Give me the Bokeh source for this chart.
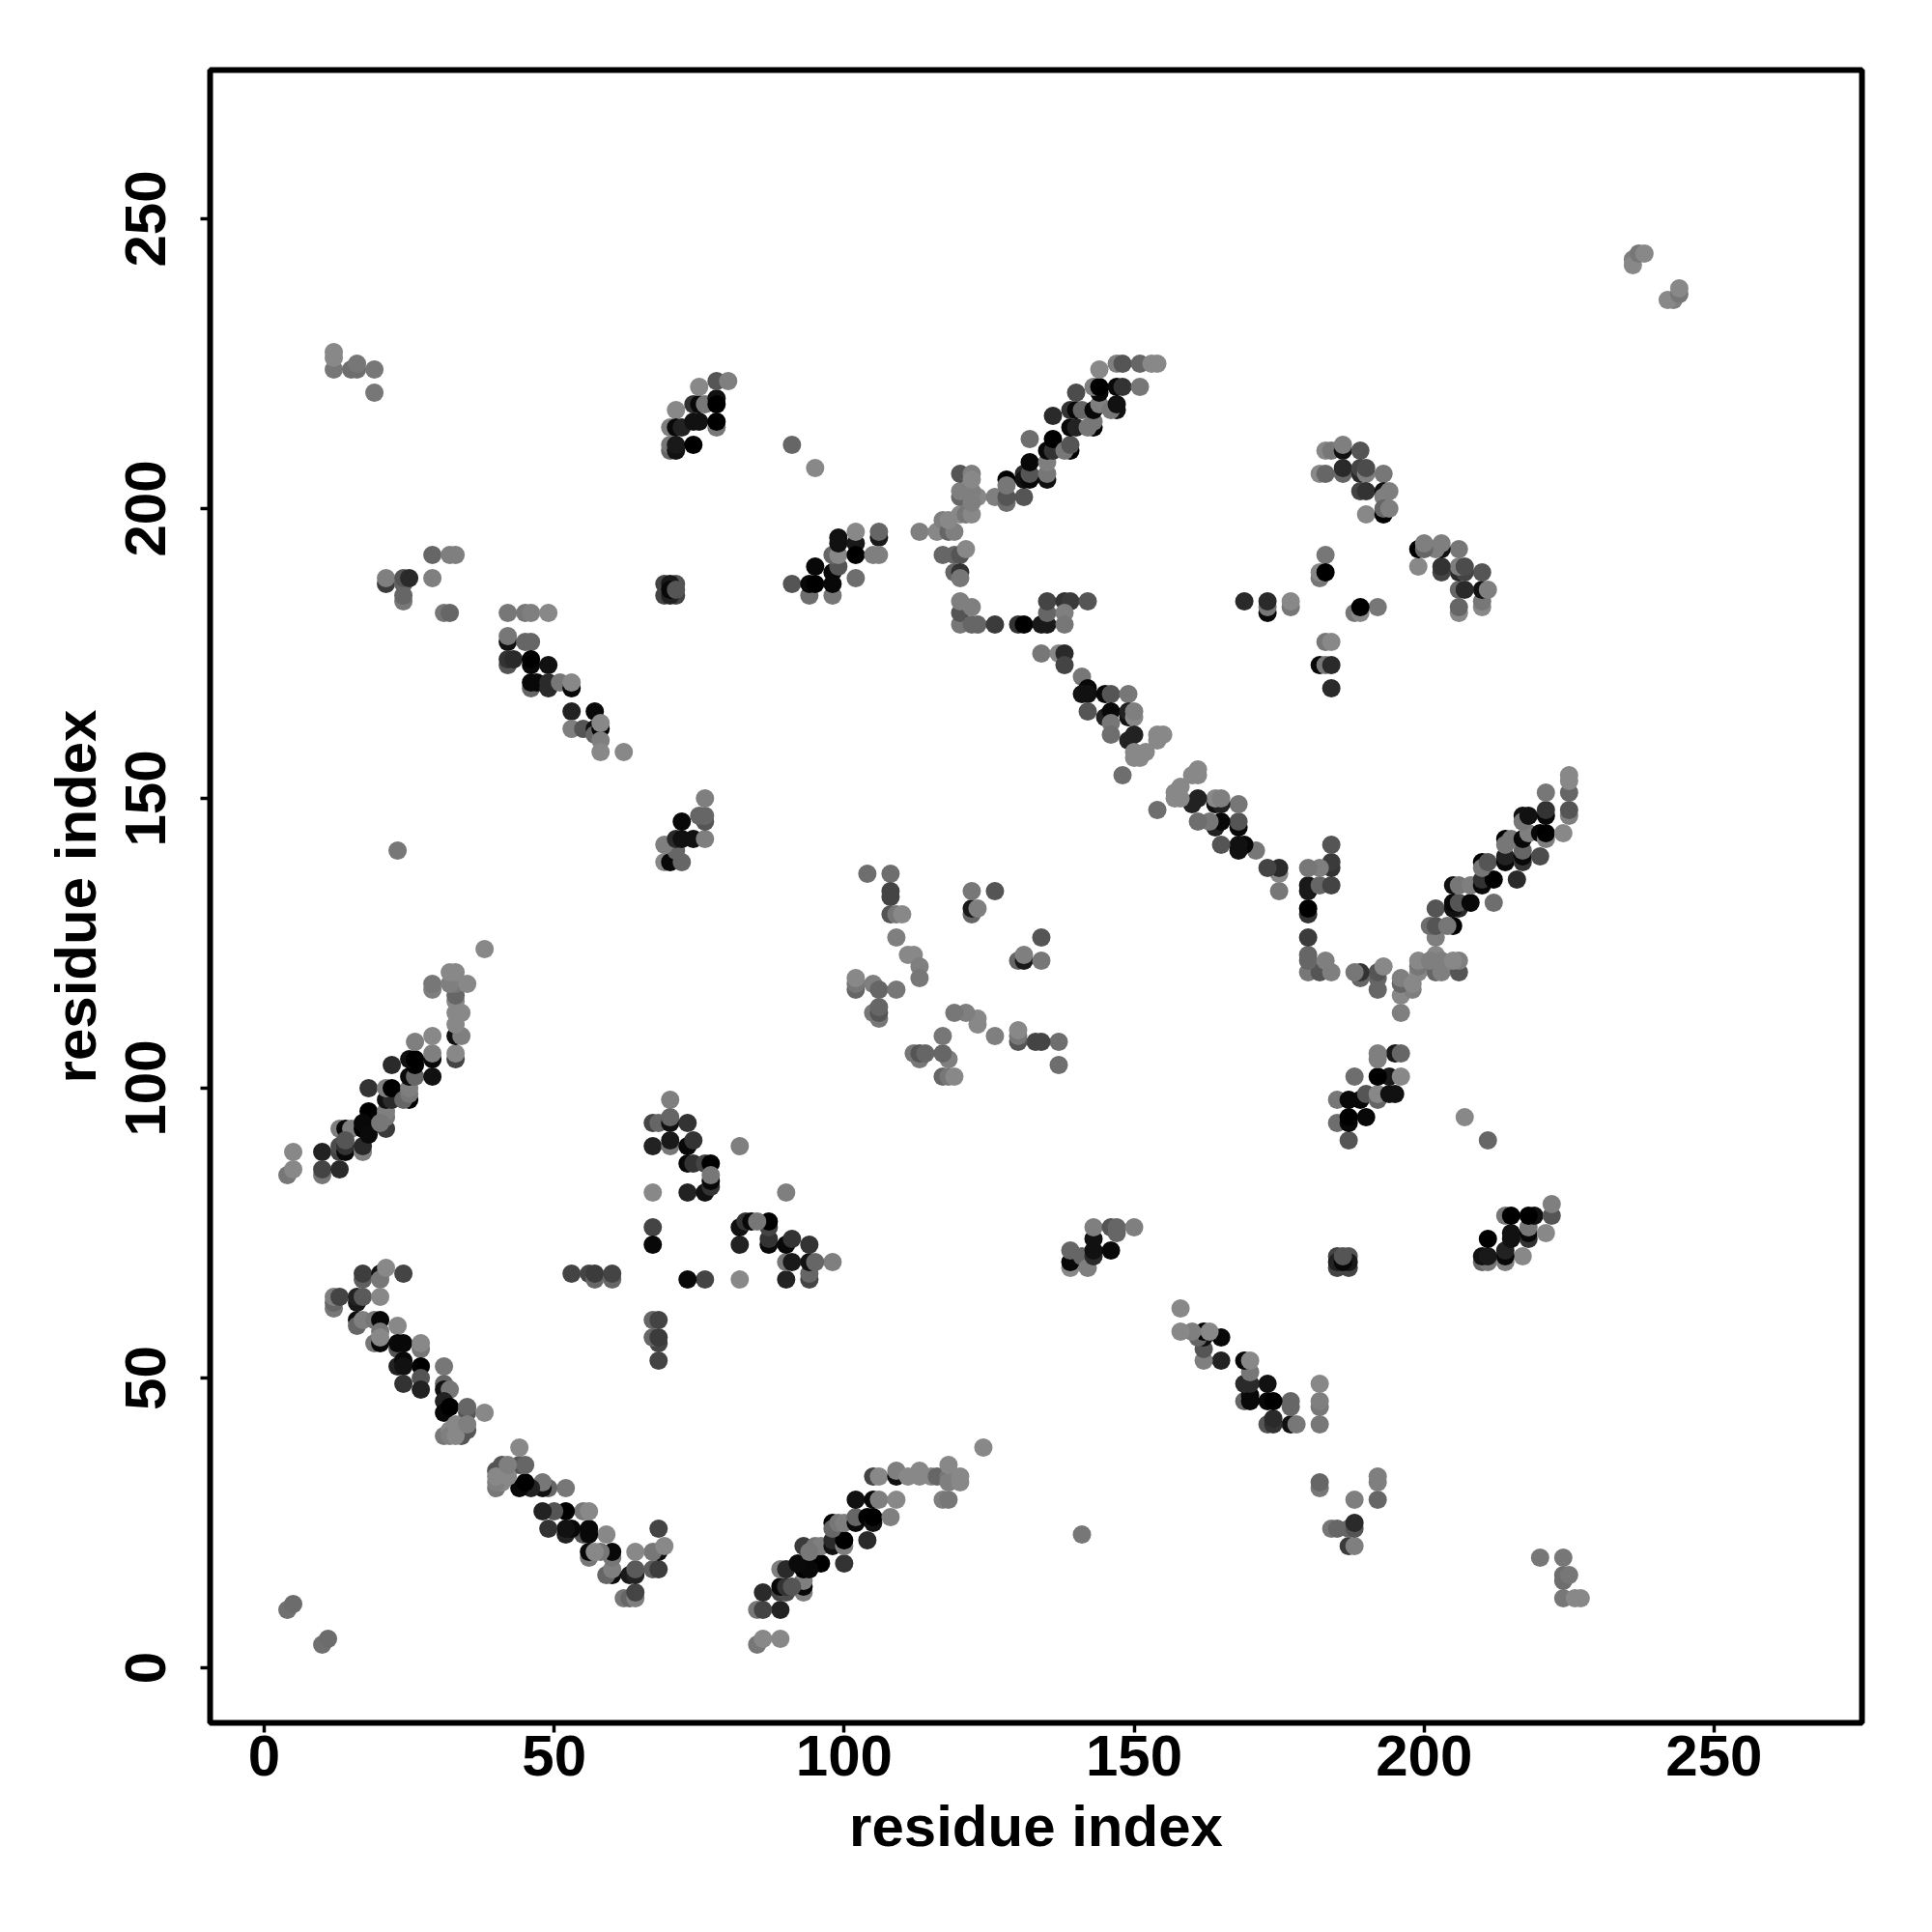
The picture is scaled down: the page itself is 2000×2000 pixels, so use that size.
from bokeh.plotting import figure
from bokeh.models import ColumnDataSource, FixedTicker, Range1d
from bokeh.embed import file_html
from bokeh.resources import INLINE

near_ends = [(4,10,0x6a),(5,11,0x66),(236,243,0x78),(236,242,0x80),(237,244,0x70),(238,244,0x80)]
strand_a = [(17,67,0x5a),(17,68,0x3a),(20,68,0x10),(20,67,0x70),(21,69,0x80),(24,68,0x40),
 (12,62,0x70),(12,63,0x60),(12,64,0x78),(13,64,0x40),(16,63,0x18),(16,64,0x20),(17,64,0x55),(20,64,0x80),
 (16,60,0x0a),(16,59,0x60),(17,60,0x78),(19,60,0x70),(20,60,0x08),(23,59,0x80),
 (20,58,0x70),(19,56,0x70),(20,56,0x08),(20,57,0x80),(23,55,0x50),(23,56,0x08),(24,56,0x08),(27,55,0x70),(27,56,0x80),
 (23,52,0x20),(24,53,0x08),(24,52,0x10),(27,52,0x00),(27,50,0x50),(24,49,0x30),(27,48,0x20),
 (31,52,0x70),(31,49,0x60),(31,48,0x10),(32,48,0x70),(31,46,0x20),(31,44,0x08),(32,45,0x00),
 (35,44,0x50),(35,45,0x60),(38,44,0x80),(34,40,0x50),(31,40,0x70),(35,41,0x50),(32,41,0x80),(32,40,0x78),(33,40,0x80),(33,42,0x80),(35,42,0x78)]
patch_b = [(67,82,0x80),(73,82,0x20),(76,82,0x10),(77,83,0x30),(77,84,0x08),(67,76,0x40),(67,73,0x08),
 (53,68,0x40),(56,68,0x40),(57,67,0x60),(57,68,0x38),(60,67,0x60),(60,68,0x40),
 (70,98,0x78),(67,94,0x40),(68,94,0x60),(70,94,0x10),(70,95,0x60),(73,94,0x30),
 (67,90,0x20),(70,90,0x70),(70,91,0x18),(73,90,0x08),(74,91,0x30),(82,90,0x78),
 (73,87,0x08),(74,87,0x30),(76,87,0x40),(77,87,0x00),(77,85,0x70)]
strand_c = [(5,89,0x80),(4,85,0x70),(5,86,0x80),(10,85,0x70),(10,89,0x20),(10,86,0x40),(13,86,0x28),
 (13,93,0x78),(14,93,0x08),(15,93,0x78),(13,89,0x40),(13,90,0x48),(14,89,0x08),(14,90,0x30),(14,91,0x50),
 (17,89,0x78),(17,90,0x28),(17,93,0x00),(18,93,0x28),(18,96,0x00),(17,94,0x08),(18,92,0x0a),
 (21,93,0x38),(21,95,0x70),(21,96,0x78),(20,94,0x70),(18,100,0x30),(21,98,0x10),(22,98,0x28),(21,100,0x78),(22,100,0x00),
 (25,98,0x00),(24,98,0x60),(25,99,0x70),(25,100,0x78),(22,104,0x28),(25,102,0x0a),(26,102,0x60),(26,104,0x00),(25,105,0x10),(26,105,0x00),(26,108,0x78),
 (29,102,0x10),(29,105,0x08),(29,106,0x78),(29,109,0x80),(33,105,0x40),(33,106,0x80),
 (33,109,0x10),(34,109,0x78),(33,111,0x80),(33,113,0x80),(34,113,0x80),(33,115,0x80),
 (29,117,0x78),(29,118,0x70),(33,116,0x60),(33,118,0x70),(32,118,0x78),(32,120,0x80),(33,120,0x80),(35,118,0x80),(38,124,0x80),(23,141,0x70)]
patch_d = [(69,139,0x80),(70,139,0x08),(72,139,0x60),(71,141,0x60),(69,142,0x78),(71,143,0x28),(72,143,0x10),(72,146,0x08),
 (74,143,0x10),(76,143,0x78),(76,146,0x50),(75,147,0x60),(76,147,0x60),(76,150,0x78)]
strand_e = [(42,177,0x10),(42,178,0x70),(45,177,0x60),(46,177,0x60),(42,173,0x50),(42,174,0x30),(43,174,0x28),(46,173,0x08),(46,174,0x00),(49,173,0x10),
 (46,169,0x60),(46,170,0x08),(47,170,0x08),(49,169,0x28),(49,170,0x28),(51,170,0x70),(53,169,0x08),(53,170,0x80),
 (53,165,0x20),(57,165,0x08),(53,162,0x78),(55,162,0x50),(57,162,0x10),(57,161,0x60),(58,162,0x00),(58,163,0x80),(58,160,0x78),(58,158,0x80),(62,158,0x80)]
patch_f = [(12,224,0x70),(12,226,0x80),(12,227,0x80),(15,224,0x68),(16,224,0x68),(16,225,0x70),(19,224,0x70),(19,220,0x70)]
patch_g = [(70,210,0x60),(70,211,0x70),(70,214,0x78),(71,217,0x80),(71,214,0x08),(72,214,0x20),(71,210,0x10),(71,211,0x18),(74,211,0x00),
 (74,218,0x30),(74,215,0x10),(75,215,0x10),(75,218,0x08),(76,218,0x70),(75,221,0x80),(78,214,0x70),(78,219,0x10),(78,218,0x00),(78,215,0x00),(78,222,0x50),(80,222,0x78)]
patch_h = [(69,187,0x40),(69,185,0x40),(71,187,0x50),(71,185,0x40),(70,187,0x18),(70,185,0x20),(70,186,0x08),(71,186,0x50)]
patch_i = [(21,187,0x38),(21,188,0x78),(24,184,0x70),(24,185,0x60),(24,187,0x60),(24,188,0x50),(25,188,0x28),
 (29,192,0x60),(32,192,0x78),(33,192,0x78),(29,188,0x78),(31,182,0x70),(32,182,0x60),(42,182,0x70),(45,182,0x70),(46,182,0x78),(49,182,0x80)]
patch_j = [(91,211,0x60),(95,207,0x80),(91,187,0x50),(94,185,0x68),(94,187,0x08),(95,187,0x00),(98,185,0x70),(95,190,0x08),
 (98,187,0x08),(98,189,0x08),(99,190,0x50),(98,192,0x60),(99,192,0x80),(99,195,0x10),(99,194,0x10),
 (102,194,0x18),(102,196,0x80),(102,192,0x00),(102,188,0x68),(106,195,0x18),(106,196,0x60),(105,192,0x78),(106,192,0x78)]
strand_k = [(113,196,0x78),(116,196,0x80),(117,192,0x60),(117,198,0x78),(118,196,0x60),(119,196,0x78),(119,192,0x60),(120,192,0x50),(121,193,0x80),
 (119,189,0x60),(120,189,0x30),(120,188,0x70),(118,198,0x80),(120,199,0x80),(121,199,0x70),(122,199,0x80),
 (121,202,0x40),(120,202,0x60),(123,202,0x80),(120,203,0x78),(122,203,0x78),(122,201,0x78),(120,206,0x50),(122,206,0x78),(122,205,0x80),
 (126,202,0x78),(128,201,0x68),(128,202,0x50),(131,202,0x50),(128,205,0x00),(128,204,0x70),
 (131,206,0x28),(131,205,0x10),(132,205,0x08),(132,206,0x50),(132,208,0x08),(132,212,0x68),
 (135,205,0x10),(135,206,0x70),(135,208,0x78),(135,210,0x08),(136,210,0x30),(136,212,0x00),(136,216,0x28),
 (139,210,0x00),(138,210,0x70),(139,211,0x50),(139,214,0x08),(140,214,0x20),(139,217,0x30),(140,217,0x08),(141,217,0x60),(140,220,0x48),
 (143,214,0x00),(142,214,0x70),(143,215,0x70),(143,217,0x08),(144,218,0x78),(144,220,0x08),(143,221,0x78),(144,221,0x00),
 (147,217,0x10),(146,217,0x70),(147,218,0x10),(147,221,0x08),(148,221,0x30),(151,221,0x70),
 (144,224,0x80),(147,225,0x78),(148,225,0x50),(151,225,0x60),(153,225,0x80),(154,225,0x80)]
strand_l = [(120,180,0x70),(120,182,0x50),(120,184,0x78),(122,180,0x60),(122,183,0x78),(123,180,0x60),(126,180,0x38),(130,180,0x30),(131,180,0x00),
 (134,180,0x18),(135,180,0x18),(135,182,0x60),(135,184,0x40),(138,184,0x30),(139,184,0x38),(138,182,0x78),(138,180,0x70),(142,184,0x50),
 (134,175,0x70),(137,175,0x80),(138,175,0x28),(138,173,0x40),(141,171,0x70),(142,169,0x08),(141,168,0x10),(142,168,0x10),
 (145,168,0x08),(146,168,0x50),(149,168,0x70),(142,165,0x50),(145,164,0x20),(146,165,0x08),(146,163,0x70),(149,164,0x10),(149,165,0x20),(150,164,0x80),(150,165,0x78),
 (146,161,0x68),(149,160,0x20),(150,161,0x20),(150,158,0x80),(154,160,0x80),(154,161,0x80),(155,161,0x80),(152,158,0x80),(150,157,0x80),(151,157,0x80),(148,154,0x68)]
patch_m = [(104,137,0x68),(108,137,0x68),(108,134,0x40),(108,133,0x40),(108,130,0x50),(109,130,0x70),(110,130,0x80),(109,126,0x78),
 (111,123,0x80),(112,123,0x80),(113,121,0x78),(113,119,0x70),(102,117,0x60),(102,118,0x70),(102,119,0x80),(105,118,0x78),(106,117,0x60),(109,117,0x70),
 (106,112,0x70),(105,113,0x70),(106,113,0x50),(106,114,0x60),(122,130,0x60),(122,131,0x18),(123,131,0x78),(122,134,0x70),(126,134,0x50)]
patch_n = [(169,184,0x28),(173,182,0x08),(173,183,0x70),(173,184,0x28),(177,183,0x70),(177,184,0x80),
 (183,192,0x70),(182,188,0x70),(182,189,0x80),(183,189,0x00)]
patch_o = [(183,210,0x80),(184,210,0x70),(186,210,0x10),(186,211,0x78),(189,210,0x50),(182,206,0x80),(183,206,0x60),(186,206,0x60),(186,207,0x28),
 (189,206,0x28),(189,207,0x40),(190,206,0x78),(190,207,0x48),(193,206,0x70),(189,203,0x40),(190,203,0x30),(193,203,0x10),(194,203,0x78),(193,202,0x78),
 (190,199,0x80),(193,199,0x00),(193,200,0x60),(194,200,0x78)]

x_ticks = [0, 50, 100, 150, 200, 250]
y_ticks = [0, 50, 100, 150, 200, 250]
x_title = "residue index"
y_title = "residue index"

half = (near_ends + strand_a + patch_b + strand_c + patch_d + strand_e + patch_f + patch_g
        + patch_h + patch_i + patch_j + strand_k + strand_l + patch_m + patch_n + patch_o)
# the map is symmetric: each contact (i, j) is also drawn as (j, i)
xs = [c[0] for c in half] + [c[1] for c in half]
ys = [c[1] for c in half] + [c[0] for c in half]
greys = [c[2] for c in half] * 2
levels = [min(255, g + g // 16) for g in greys]
colors = ["#%02x%02x%02x" % (v, v, v) for v in levels]

p = figure(width=1960, height=1960, output_backend="svg", toolbar_location=None,
           x_range=Range1d(-9.33, 275.5), y_range=Range1d(-9.5, 275.67),
           min_border_left=217, min_border_right=33, min_border_top=72, min_border_bottom=177,
           background_fill_color="white", border_fill_color="white")
p.grid.visible = False
p.outline_line_color = "black"
p.outline_line_width = 6
p.outline_line_alpha = 1

src = ColumnDataSource(dict(x=xs, y=ys, c=colors))
p.scatter("x", "y", source=src, size=19, marker="circle", fill_color="c", line_color=None)

for ax, ticks, title in ((p.xaxis[0], x_ticks, x_title), (p.yaxis[0], y_ticks, y_title)):
    ax.ticker = FixedTicker(ticks=ticks)
    ax.minor_tick_line_color = None
    ax.axis_line_color = None
    ax.major_tick_in = 0
    ax.major_tick_out = 10
    ax.major_tick_line_width = 3.5
    ax.major_tick_line_color = "black"
    ax.major_label_text_font = "Liberation Sans"
    ax.major_label_text_font_style = "bold"
    ax.major_label_text_font_size = "60px"
    ax.major_label_text_color = "black"
    ax.axis_label = title
    ax.axis_label_text_font = "Liberation Sans"
    ax.axis_label_text_font_style = "bold"
    ax.axis_label_text_font_size = "60px"
    ax.axis_label_text_color = "black"

p.xaxis[0].major_label_standoff = 3
p.xaxis[0].axis_label_standoff = 16
p.yaxis[0].major_label_orientation = "vertical"
p.yaxis[0].major_label_standoff = 36
p.yaxis[0].axis_label_standoff = 16

open("out.html", "w").write(file_html(p, INLINE))
